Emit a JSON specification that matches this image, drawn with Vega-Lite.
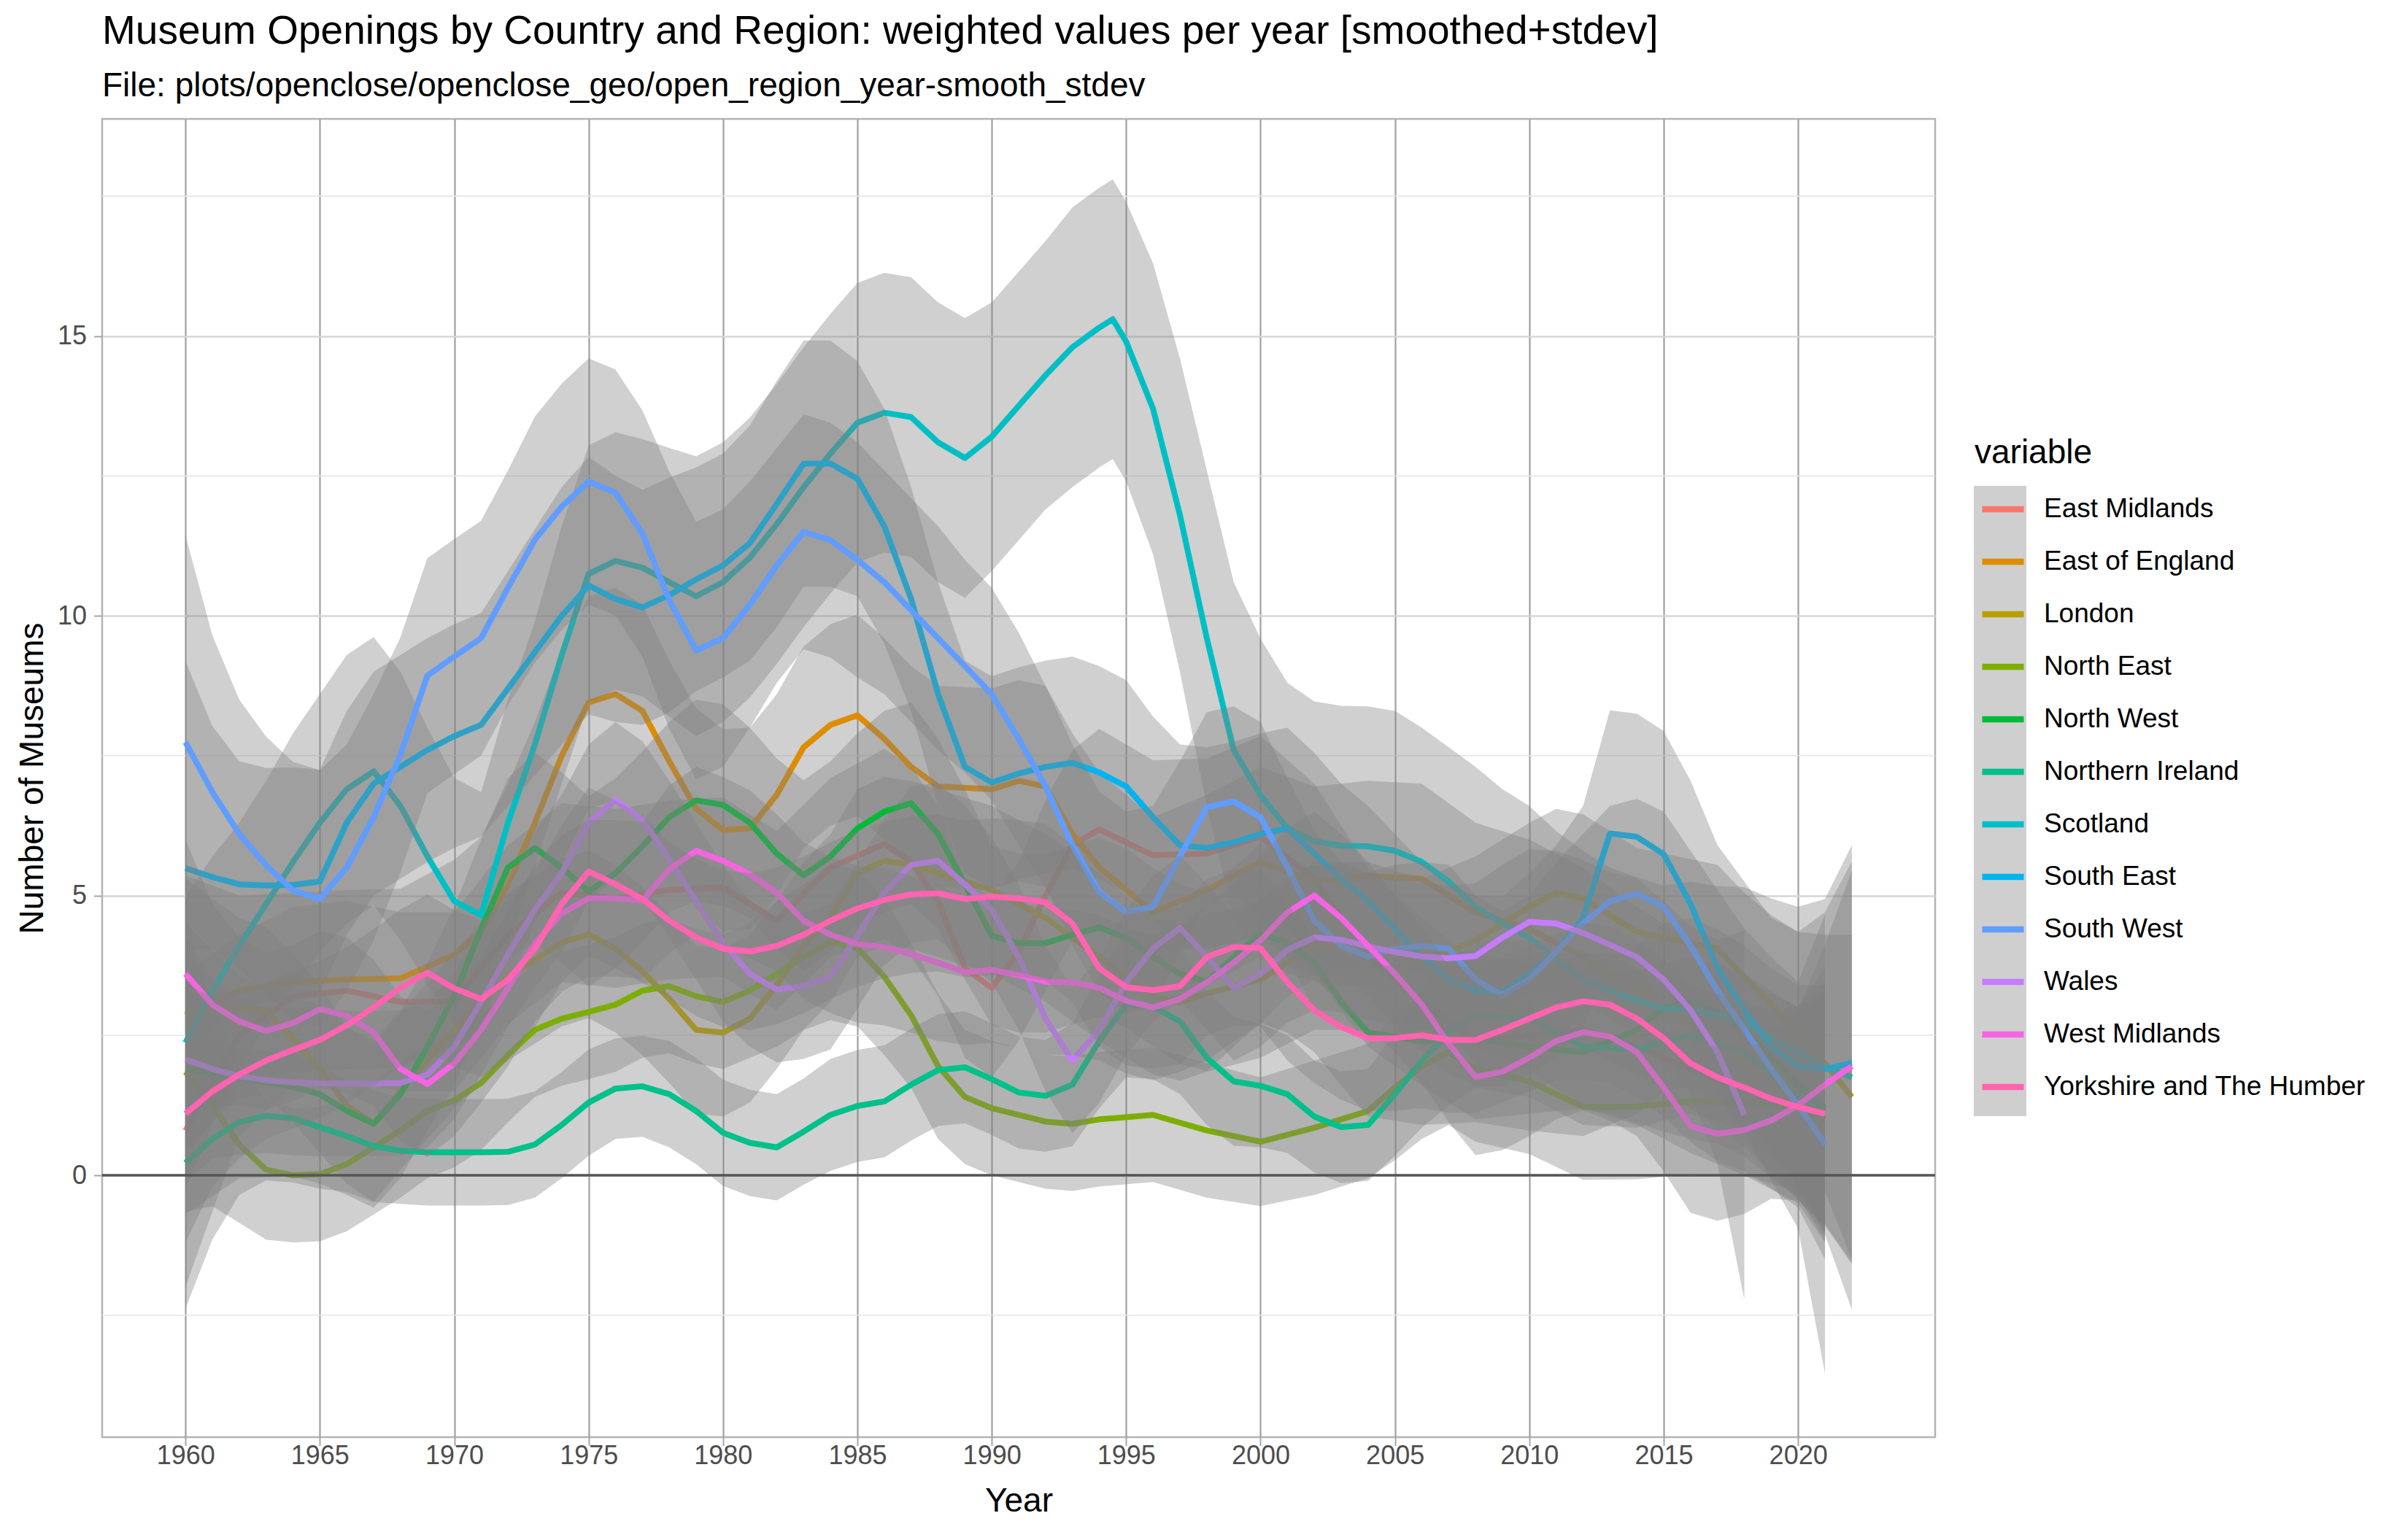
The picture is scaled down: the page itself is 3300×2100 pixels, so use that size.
{
  "$schema": "https://vega.github.io/schema/vega-lite/v6.json",
  "width": 2512,
  "height": 1807,
  "autosize": {"type": "none"},
  "padding": {"left": 140, "top": 163, "right": 648, "bottom": 130},
  "background": "white",
  "title": {
    "text": "Museum Openings by Country and Region: weighted values per year [smoothed+stdev]",
    "subtitle": "File: plots/openclose/openclose_geo/open_region_year-smooth_stdev",
    "anchor": "start",
    "frame": "group",
    "font": "Liberation Sans",
    "fontSize": 55,
    "fontWeight": "normal",
    "color": "black",
    "subtitleFont": "Liberation Sans",
    "subtitleFontSize": 46,
    "subtitleColor": "black",
    "subtitlePadding": 24,
    "offset": 21
  },
  "datasets": {
    "reg": [
      {"r": "EM", "variable": "East Midlands"},
      {"r": "EE", "variable": "East of England"},
      {"r": "LO", "variable": "London"},
      {"r": "NE", "variable": "North East"},
      {"r": "NW", "variable": "North West"},
      {"r": "NI", "variable": "Northern Ireland"},
      {"r": "SC", "variable": "Scotland"},
      {"r": "SE", "variable": "South East"},
      {"r": "SW", "variable": "South West"},
      {"r": "WA", "variable": "Wales"},
      {"r": "WM", "variable": "West Midlands"},
      {"r": "YH", "variable": "Yorkshire and The Humber"}
    ],
    "d": [
      {"r":"EM","t":1960,"v":0.8,"sd":2.8},{"r":"EM","t":1962,"v":2.5,"sd":1.8},{"r":"EM","t":1964,"v":3.2,"sd":1.6},{"r":"EM","t":1966,"v":3.3,"sd":1.6},{"r":"EM","t":1968,"v":3.1,"sd":1.6},{"r":"EM","t":1970,"v":3.1,"sd":1.6},{"r":"EM","t":1972,"v":4.3,"sd":1.6},{"r":"EM","t":1974,"v":5.05,"sd":1.6},{"r":"EM","t":1976,"v":4.95,"sd":1.6},{"r":"EM","t":1978,"v":5.1,"sd":1.6},{"r":"EM","t":1980,"v":5.15,"sd":1.6},{"r":"EM","t":1982,"v":4.55,"sd":1.6},{"r":"EM","t":1984,"v":5.5,"sd":1.6},{"r":"EM","t":1986,"v":5.92,"sd":1.7},{"r":"EM","t":1987,"v":5.6,"sd":1.7},{"r":"EM","t":1988,"v":4.9,"sd":1.7},{"r":"EM","t":1989,"v":3.7,"sd":1.6},{"r":"EM","t":1990,"v":3.35,"sd":1.6},{"r":"EM","t":1991,"v":4.0,"sd":1.6},{"r":"EM","t":1992,"v":5.0,"sd":1.7},{"r":"EM","t":1993,"v":5.9,"sd":1.7},{"r":"EM","t":1994,"v":6.18,"sd":1.8},{"r":"EM","t":1996,"v":5.72,"sd":1.7},{"r":"EM","t":1998,"v":5.75,"sd":1.7},{"r":"EM","t":2000,"v":6.05,"sd":1.8},{"r":"EM","t":2002,"v":5.3,"sd":1.7},{"r":"EM","t":2004,"v":3.9,"sd":1.6},{"r":"EM","t":2006,"v":3.1,"sd":1.5},{"r":"EM","t":2008,"v":2.4,"sd":1.4},{"r":"EM","t":2010,"v":2.5,"sd":1.4},{"r":"EM","t":2012,"v":2.6,"sd":1.4},{"r":"EM","t":2014,"v":2.3,"sd":1.4},{"r":"EM","t":2016,"v":1.9,"sd":1.5},{"r":"EM","t":2018,"v":1.5,"sd":1.5},{"r":"EM","t":2020,"v":1.2,"sd":1.7},{"r":"EM","t":2021,"v":1.0,"sd":2.2},
      {"r":"EE","t":1960,"v":2.86,"sd":2.5},{"r":"EE","t":1962,"v":3.3,"sd":1.7},{"r":"EE","t":1964,"v":3.45,"sd":1.6},{"r":"EE","t":1966,"v":3.5,"sd":1.6},{"r":"EE","t":1968,"v":3.52,"sd":1.6},{"r":"EE","t":1970,"v":3.94,"sd":1.7},{"r":"EE","t":1971,"v":4.35,"sd":1.7},{"r":"EE","t":1972,"v":5.2,"sd":1.8},{"r":"EE","t":1973,"v":6.3,"sd":1.8},{"r":"EE","t":1974,"v":7.5,"sd":1.9},{"r":"EE","t":1975,"v":8.45,"sd":1.9},{"r":"EE","t":1976,"v":8.6,"sd":1.9},{"r":"EE","t":1977,"v":8.3,"sd":1.9},{"r":"EE","t":1978,"v":7.4,"sd":1.8},{"r":"EE","t":1979,"v":6.55,"sd":1.8},{"r":"EE","t":1980,"v":6.17,"sd":1.8},{"r":"EE","t":1981,"v":6.2,"sd":1.8},{"r":"EE","t":1982,"v":6.8,"sd":1.8},{"r":"EE","t":1983,"v":7.65,"sd":1.8},{"r":"EE","t":1984,"v":8.05,"sd":1.8},{"r":"EE","t":1985,"v":8.22,"sd":1.8},{"r":"EE","t":1986,"v":7.8,"sd":1.8},{"r":"EE","t":1987,"v":7.3,"sd":1.8},{"r":"EE","t":1988,"v":6.95,"sd":1.8},{"r":"EE","t":1990,"v":6.9,"sd":1.8},{"r":"EE","t":1991,"v":7.05,"sd":1.8},{"r":"EE","t":1992,"v":6.95,"sd":1.8},{"r":"EE","t":1993,"v":6.1,"sd":1.8},{"r":"EE","t":1994,"v":5.5,"sd":1.7},{"r":"EE","t":1996,"v":4.7,"sd":1.7},{"r":"EE","t":1998,"v":5.1,"sd":1.7},{"r":"EE","t":2000,"v":5.6,"sd":1.7},{"r":"EE","t":2002,"v":5.25,"sd":1.7},{"r":"EE","t":2004,"v":5.35,"sd":1.7},{"r":"EE","t":2006,"v":5.3,"sd":1.7},{"r":"EE","t":2008,"v":4.7,"sd":1.6},{"r":"EE","t":2010,"v":4.4,"sd":1.6},{"r":"EE","t":2012,"v":3.9,"sd":1.6},{"r":"EE","t":2014,"v":3.3,"sd":1.5},{"r":"EE","t":2016,"v":2.7,"sd":1.5},{"r":"EE","t":2018,"v":2.0,"sd":1.5},{"r":"EE","t":2020,"v":1.3,"sd":1.7},{"r":"EE","t":2021,"v":1.15,"sd":2.3},
      {"r":"LO","t":1960,"v":2.9,"sd":2.4},{"r":"LO","t":1962,"v":3.0,"sd":1.6},{"r":"LO","t":1963,"v":2.93,"sd":1.5},{"r":"LO","t":1964,"v":2.45,"sd":1.5},{"r":"LO","t":1965,"v":1.9,"sd":1.5},{"r":"LO","t":1966,"v":1.25,"sd":1.4},{"r":"LO","t":1967,"v":0.92,"sd":1.4},{"r":"LO","t":1968,"v":1.5,"sd":1.4},{"r":"LO","t":1970,"v":2.6,"sd":1.4},{"r":"LO","t":1972,"v":3.55,"sd":1.5},{"r":"LO","t":1974,"v":4.16,"sd":1.5},{"r":"LO","t":1975,"v":4.31,"sd":1.5},{"r":"LO","t":1976,"v":4.05,"sd":1.5},{"r":"LO","t":1977,"v":3.65,"sd":1.5},{"r":"LO","t":1978,"v":3.15,"sd":1.5},{"r":"LO","t":1979,"v":2.6,"sd":1.5},{"r":"LO","t":1980,"v":2.55,"sd":1.5},{"r":"LO","t":1981,"v":2.8,"sd":1.5},{"r":"LO","t":1982,"v":3.4,"sd":1.5},{"r":"LO","t":1983,"v":4.1,"sd":1.5},{"r":"LO","t":1984,"v":4.6,"sd":1.5},{"r":"LO","t":1985,"v":5.4,"sd":1.5},{"r":"LO","t":1986,"v":5.62,"sd":1.5},{"r":"LO","t":1987,"v":5.55,"sd":1.5},{"r":"LO","t":1988,"v":5.4,"sd":1.5},{"r":"LO","t":1990,"v":5.1,"sd":1.5},{"r":"LO","t":1992,"v":4.6,"sd":1.5},{"r":"LO","t":1994,"v":3.9,"sd":1.5},{"r":"LO","t":1996,"v":3.2,"sd":1.4},{"r":"LO","t":1997,"v":3.09,"sd":1.4},{"r":"LO","t":1998,"v":3.25,"sd":1.4},{"r":"LO","t":2000,"v":3.5,"sd":1.4},{"r":"LO","t":2002,"v":4.1,"sd":1.5},{"r":"LO","t":2004,"v":4.1,"sd":1.5},{"r":"LO","t":2006,"v":3.8,"sd":1.5},{"r":"LO","t":2008,"v":4.2,"sd":1.5},{"r":"LO","t":2010,"v":4.8,"sd":1.5},{"r":"LO","t":2011,"v":5.05,"sd":1.5},{"r":"LO","t":2012,"v":4.95,"sd":1.5},{"r":"LO","t":2014,"v":4.35,"sd":1.5},{"r":"LO","t":2016,"v":4.15,"sd":1.5},{"r":"LO","t":2017,"v":4.05,"sd":1.5},{"r":"LO","t":2018,"v":3.55,"sd":1.5},{"r":"LO","t":2019,"v":3.05,"sd":1.6},{"r":"LO","t":2020,"v":2.55,"sd":1.8},{"r":"LO","t":2021,"v":2.0,"sd":2.3},{"r":"LO","t":2022,"v":1.4,"sd":2.9},
      {"r":"NE","t":1960,"v":1.85,"sd":2.5},{"r":"NE","t":1961,"v":1.25,"sd":1.8},{"r":"NE","t":1962,"v":0.55,"sd":1.4},{"r":"NE","t":1963,"v":0.1,"sd":1.25},{"r":"NE","t":1964,"v":0.0,"sd":1.2},{"r":"NE","t":1965,"v":0.02,"sd":1.2},{"r":"NE","t":1966,"v":0.2,"sd":1.2},{"r":"NE","t":1967,"v":0.5,"sd":1.2},{"r":"NE","t":1968,"v":0.8,"sd":1.2},{"r":"NE","t":1969,"v":1.15,"sd":1.2},{"r":"NE","t":1970,"v":1.34,"sd":1.2},{"r":"NE","t":1971,"v":1.65,"sd":1.2},{"r":"NE","t":1972,"v":2.15,"sd":1.2},{"r":"NE","t":1973,"v":2.6,"sd":1.2},{"r":"NE","t":1974,"v":2.8,"sd":1.2},{"r":"NE","t":1975,"v":2.92,"sd":1.2},{"r":"NE","t":1976,"v":3.05,"sd":1.2},{"r":"NE","t":1977,"v":3.3,"sd":1.2},{"r":"NE","t":1978,"v":3.38,"sd":1.2},{"r":"NE","t":1979,"v":3.2,"sd":1.2},{"r":"NE","t":1980,"v":3.1,"sd":1.2},{"r":"NE","t":1981,"v":3.3,"sd":1.2},{"r":"NE","t":1982,"v":3.6,"sd":1.3},{"r":"NE","t":1983,"v":3.9,"sd":1.3},{"r":"NE","t":1984,"v":4.17,"sd":1.4},{"r":"NE","t":1985,"v":4.06,"sd":1.4},{"r":"NE","t":1986,"v":3.55,"sd":1.4},{"r":"NE","t":1987,"v":2.86,"sd":1.3},{"r":"NE","t":1988,"v":1.95,"sd":1.3},{"r":"NE","t":1989,"v":1.4,"sd":1.2},{"r":"NE","t":1990,"v":1.2,"sd":1.2},{"r":"NE","t":1992,"v":0.96,"sd":1.2},{"r":"NE","t":1993,"v":0.92,"sd":1.2},{"r":"NE","t":1994,"v":1.0,"sd":1.2},{"r":"NE","t":1996,"v":1.08,"sd":1.2},{"r":"NE","t":1998,"v":0.8,"sd":1.2},{"r":"NE","t":2000,"v":0.6,"sd":1.15},{"r":"NE","t":2002,"v":0.85,"sd":1.2},{"r":"NE","t":2004,"v":1.15,"sd":1.2},{"r":"NE","t":2005,"v":1.57,"sd":1.3},{"r":"NE","t":2006,"v":1.95,"sd":1.3},{"r":"NE","t":2007,"v":2.2,"sd":1.3},{"r":"NE","t":2008,"v":1.9,"sd":1.3},{"r":"NE","t":2010,"v":1.68,"sd":1.3},{"r":"NE","t":2011,"v":1.45,"sd":1.3},{"r":"NE","t":2012,"v":1.22,"sd":1.3},{"r":"NE","t":2014,"v":1.23,"sd":1.3},{"r":"NE","t":2016,"v":1.32,"sd":1.3},{"r":"NE","t":2018,"v":1.3,"sd":1.3},{"r":"NE","t":2020,"v":1.2,"sd":1.5},{"r":"NE","t":2021,"v":1.0,"sd":2.0},
      {"r":"NW","t":1960,"v":1.9,"sd":2.6},{"r":"NW","t":1962,"v":1.75,"sd":1.8},{"r":"NW","t":1964,"v":1.58,"sd":1.6},{"r":"NW","t":1965,"v":1.45,"sd":1.6},{"r":"NW","t":1966,"v":1.15,"sd":1.5},{"r":"NW","t":1967,"v":0.92,"sd":1.5},{"r":"NW","t":1968,"v":1.45,"sd":1.5},{"r":"NW","t":1969,"v":2.3,"sd":1.5},{"r":"NW","t":1970,"v":3.2,"sd":1.6},{"r":"NW","t":1971,"v":4.4,"sd":1.6},{"r":"NW","t":1972,"v":5.5,"sd":1.6},{"r":"NW","t":1973,"v":5.85,"sd":1.7},{"r":"NW","t":1974,"v":5.5,"sd":1.7},{"r":"NW","t":1975,"v":5.07,"sd":1.7},{"r":"NW","t":1976,"v":5.4,"sd":1.7},{"r":"NW","t":1977,"v":5.88,"sd":1.7},{"r":"NW","t":1978,"v":6.4,"sd":1.7},{"r":"NW","t":1979,"v":6.7,"sd":1.8},{"r":"NW","t":1980,"v":6.62,"sd":1.8},{"r":"NW","t":1981,"v":6.3,"sd":1.7},{"r":"NW","t":1982,"v":5.75,"sd":1.7},{"r":"NW","t":1983,"v":5.36,"sd":1.7},{"r":"NW","t":1984,"v":5.7,"sd":1.7},{"r":"NW","t":1985,"v":6.2,"sd":1.7},{"r":"NW","t":1986,"v":6.5,"sd":1.8},{"r":"NW","t":1987,"v":6.65,"sd":1.8},{"r":"NW","t":1988,"v":6.1,"sd":1.7},{"r":"NW","t":1989,"v":5.2,"sd":1.7},{"r":"NW","t":1990,"v":4.28,"sd":1.6},{"r":"NW","t":1991,"v":4.15,"sd":1.6},{"r":"NW","t":1992,"v":4.15,"sd":1.6},{"r":"NW","t":1993,"v":4.3,"sd":1.6},{"r":"NW","t":1994,"v":4.43,"sd":1.6},{"r":"NW","t":1995,"v":4.24,"sd":1.6},{"r":"NW","t":1996,"v":3.9,"sd":1.6},{"r":"NW","t":1997,"v":3.6,"sd":1.6},{"r":"NW","t":1998,"v":3.46,"sd":1.6},{"r":"NW","t":1999,"v":3.9,"sd":1.6},{"r":"NW","t":2000,"v":4.33,"sd":1.6},{"r":"NW","t":2001,"v":4.15,"sd":1.6},{"r":"NW","t":2002,"v":3.8,"sd":1.6},{"r":"NW","t":2003,"v":3.1,"sd":1.5},{"r":"NW","t":2004,"v":2.55,"sd":1.5},{"r":"NW","t":2006,"v":2.4,"sd":1.5},{"r":"NW","t":2008,"v":2.45,"sd":1.5},{"r":"NW","t":2010,"v":2.3,"sd":1.5},{"r":"NW","t":2012,"v":2.2,"sd":1.5},{"r":"NW","t":2014,"v":2.6,"sd":1.5},{"r":"NW","t":2015,"v":3.0,"sd":1.5},{"r":"NW","t":2016,"v":3.1,"sd":1.5},{"r":"NW","t":2017,"v":2.9,"sd":1.5},{"r":"NW","t":2018,"v":2.6,"sd":1.5},{"r":"NW","t":2019,"v":2.1,"sd":1.6},{"r":"NW","t":2020,"v":1.6,"sd":1.8},{"r":"NW","t":2021,"v":1.2,"sd":2.2},
      {"r":"NI","t":1960,"v":0.22,"sd":2.6},{"r":"NI","t":1961,"v":0.65,"sd":1.8},{"r":"NI","t":1962,"v":0.95,"sd":1.3},{"r":"NI","t":1963,"v":1.06,"sd":1.15},{"r":"NI","t":1964,"v":1.02,"sd":1.15},{"r":"NI","t":1965,"v":0.86,"sd":1.1},{"r":"NI","t":1966,"v":0.7,"sd":1.0},{"r":"NI","t":1967,"v":0.52,"sd":1.0},{"r":"NI","t":1968,"v":0.44,"sd":0.95},{"r":"NI","t":1969,"v":0.41,"sd":0.95},{"r":"NI","t":1970,"v":0.41,"sd":0.95},{"r":"NI","t":1971,"v":0.41,"sd":0.95},{"r":"NI","t":1972,"v":0.42,"sd":0.95},{"r":"NI","t":1973,"v":0.55,"sd":0.95},{"r":"NI","t":1974,"v":0.9,"sd":0.95},{"r":"NI","t":1975,"v":1.3,"sd":0.95},{"r":"NI","t":1976,"v":1.55,"sd":0.9},{"r":"NI","t":1977,"v":1.59,"sd":0.9},{"r":"NI","t":1978,"v":1.45,"sd":0.95},{"r":"NI","t":1979,"v":1.15,"sd":0.95},{"r":"NI","t":1980,"v":0.76,"sd":0.95},{"r":"NI","t":1981,"v":0.58,"sd":0.95},{"r":"NI","t":1982,"v":0.5,"sd":0.95},{"r":"NI","t":1983,"v":0.78,"sd":0.95},{"r":"NI","t":1984,"v":1.08,"sd":1.0},{"r":"NI","t":1985,"v":1.24,"sd":1.0},{"r":"NI","t":1986,"v":1.32,"sd":1.0},{"r":"NI","t":1987,"v":1.62,"sd":1.0},{"r":"NI","t":1988,"v":1.88,"sd":1.0},{"r":"NI","t":1989,"v":1.93,"sd":1.0},{"r":"NI","t":1990,"v":1.72,"sd":1.0},{"r":"NI","t":1991,"v":1.48,"sd":1.0},{"r":"NI","t":1992,"v":1.42,"sd":1.0},{"r":"NI","t":1993,"v":1.62,"sd":1.1},{"r":"NI","t":1994,"v":2.4,"sd":1.2},{"r":"NI","t":1995,"v":3.05,"sd":1.3},{"r":"NI","t":1996,"v":3.02,"sd":1.3},{"r":"NI","t":1997,"v":2.75,"sd":1.3},{"r":"NI","t":1998,"v":2.1,"sd":1.2},{"r":"NI","t":1999,"v":1.68,"sd":1.15},{"r":"NI","t":2000,"v":1.6,"sd":1.1},{"r":"NI","t":2001,"v":1.45,"sd":1.05},{"r":"NI","t":2002,"v":1.05,"sd":1.0},{"r":"NI","t":2003,"v":0.86,"sd":1.0},{"r":"NI","t":2004,"v":0.9,"sd":1.0},{"r":"NI","t":2005,"v":1.45,"sd":1.1},{"r":"NI","t":2006,"v":2.05,"sd":1.2},{"r":"NI","t":2007,"v":2.55,"sd":1.3},{"r":"NI","t":2008,"v":2.87,"sd":1.3},{"r":"NI","t":2010,"v":2.8,"sd":1.4},{"r":"NI","t":2012,"v":2.3,"sd":1.4},{"r":"NI","t":2014,"v":2.25,"sd":1.4},{"r":"NI","t":2016,"v":2.5,"sd":1.4},{"r":"NI","t":2018,"v":2.2,"sd":1.4},{"r":"NI","t":2020,"v":1.4,"sd":1.6},{"r":"NI","t":2021,"v":1.15,"sd":2.1},
      {"r":"SC","t":1960,"v":2.37,"sd":2.6},{"r":"SC","t":1961,"v":3.3,"sd":2.4},{"r":"SC","t":1962,"v":4.1,"sd":2.2},{"r":"SC","t":1963,"v":4.85,"sd":2.2},{"r":"SC","t":1964,"v":5.6,"sd":2.3},{"r":"SC","t":1965,"v":6.3,"sd":2.3},{"r":"SC","t":1966,"v":6.9,"sd":2.4},{"r":"SC","t":1967,"v":7.22,"sd":2.4},{"r":"SC","t":1968,"v":6.6,"sd":2.4},{"r":"SC","t":1969,"v":5.7,"sd":2.3},{"r":"SC","t":1970,"v":4.9,"sd":2.2},{"r":"SC","t":1971,"v":4.65,"sd":2.2},{"r":"SC","t":1972,"v":6.3,"sd":2.2},{"r":"SC","t":1973,"v":7.7,"sd":2.2},{"r":"SC","t":1974,"v":9.3,"sd":2.3},{"r":"SC","t":1975,"v":10.75,"sd":2.3},{"r":"SC","t":1976,"v":10.98,"sd":2.3},{"r":"SC","t":1977,"v":10.86,"sd":2.3},{"r":"SC","t":1978,"v":10.6,"sd":2.4},{"r":"SC","t":1979,"v":10.35,"sd":2.5},{"r":"SC","t":1980,"v":10.6,"sd":2.5},{"r":"SC","t":1981,"v":11.04,"sd":2.5},{"r":"SC","t":1982,"v":11.64,"sd":2.5},{"r":"SC","t":1983,"v":12.3,"sd":2.5},{"r":"SC","t":1984,"v":12.9,"sd":2.5},{"r":"SC","t":1985,"v":13.45,"sd":2.5},{"r":"SC","t":1986,"v":13.63,"sd":2.5},{"r":"SC","t":1987,"v":13.55,"sd":2.5},{"r":"SC","t":1988,"v":13.1,"sd":2.5},{"r":"SC","t":1989,"v":12.82,"sd":2.5},{"r":"SC","t":1990,"v":13.2,"sd":2.4},{"r":"SC","t":1991,"v":13.75,"sd":2.4},{"r":"SC","t":1992,"v":14.3,"sd":2.4},{"r":"SC","t":1993,"v":14.8,"sd":2.5},{"r":"SC","t":1994,"v":15.15,"sd":2.5},{"r":"SC","t":1994.5,"v":15.3,"sd":2.5},{"r":"SC","t":1995,"v":14.9,"sd":2.5},{"r":"SC","t":1996,"v":13.7,"sd":2.6},{"r":"SC","t":1997,"v":11.8,"sd":2.8},{"r":"SC","t":1998,"v":9.6,"sd":3.0},{"r":"SC","t":1999,"v":7.6,"sd":3.0},{"r":"SC","t":2000,"v":6.79,"sd":2.8},{"r":"SC","t":2001,"v":6.2,"sd":2.6},{"r":"SC","t":2002,"v":5.97,"sd":2.5},{"r":"SC","t":2003,"v":5.89,"sd":2.5},{"r":"SC","t":2004,"v":5.88,"sd":2.5},{"r":"SC","t":2005,"v":5.8,"sd":2.5},{"r":"SC","t":2006,"v":5.6,"sd":2.4},{"r":"SC","t":2007,"v":5.25,"sd":2.4},{"r":"SC","t":2008,"v":4.8,"sd":2.5},{"r":"SC","t":2009,"v":4.5,"sd":2.4},{"r":"SC","t":2010,"v":4.25,"sd":2.35},{"r":"SC","t":2011,"v":3.85,"sd":2.3},{"r":"SC","t":2012,"v":3.5,"sd":2.3},{"r":"SC","t":2013,"v":3.3,"sd":2.2},{"r":"SC","t":2014,"v":3.13,"sd":2.2},{"r":"SC","t":2015,"v":2.98,"sd":2.2},{"r":"SC","t":2016,"v":2.95,"sd":2.3},{"r":"SC","t":2017,"v":2.87,"sd":2.3},{"r":"SC","t":2018,"v":2.75,"sd":2.4},{"r":"SC","t":2019,"v":2.45,"sd":2.5},{"r":"SC","t":2020,"v":2.2,"sd":2.6},{"r":"SC","t":2021,"v":1.94,"sd":3.0},{"r":"SC","t":2022,"v":1.75,"sd":4.15},
      {"r":"SE","t":1960,"v":5.49,"sd":3.7},{"r":"SE","t":1961,"v":5.33,"sd":2.7},{"r":"SE","t":1962,"v":5.2,"sd":2.2},{"r":"SE","t":1963,"v":5.18,"sd":2.1},{"r":"SE","t":1964,"v":5.19,"sd":2.1},{"r":"SE","t":1965,"v":5.25,"sd":2.0},{"r":"SE","t":1966,"v":6.3,"sd":2.0},{"r":"SE","t":1967,"v":7.0,"sd":2.0},{"r":"SE","t":1968,"v":7.3,"sd":2.0},{"r":"SE","t":1969,"v":7.6,"sd":2.0},{"r":"SE","t":1970,"v":7.85,"sd":2.0},{"r":"SE","t":1971,"v":8.05,"sd":2.0},{"r":"SE","t":1972,"v":8.7,"sd":2.1},{"r":"SE","t":1973,"v":9.35,"sd":2.2},{"r":"SE","t":1974,"v":10.0,"sd":2.3},{"r":"SE","t":1975,"v":10.54,"sd":2.3},{"r":"SE","t":1976,"v":10.3,"sd":2.2},{"r":"SE","t":1977,"v":10.15,"sd":2.1},{"r":"SE","t":1978,"v":10.37,"sd":2.1},{"r":"SE","t":1979,"v":10.65,"sd":2.0},{"r":"SE","t":1980,"v":10.9,"sd":2.0},{"r":"SE","t":1981,"v":11.3,"sd":2.1},{"r":"SE","t":1982,"v":12.0,"sd":2.2},{"r":"SE","t":1983,"v":12.72,"sd":2.2},{"r":"SE","t":1984,"v":12.72,"sd":2.2},{"r":"SE","t":1985,"v":12.45,"sd":2.1},{"r":"SE","t":1986,"v":11.6,"sd":2.1},{"r":"SE","t":1987,"v":10.3,"sd":2.0},{"r":"SE","t":1988,"v":8.6,"sd":2.0},{"r":"SE","t":1989,"v":7.3,"sd":1.9},{"r":"SE","t":1990,"v":7.02,"sd":1.9},{"r":"SE","t":1991,"v":7.18,"sd":1.9},{"r":"SE","t":1992,"v":7.3,"sd":1.9},{"r":"SE","t":1993,"v":7.37,"sd":1.9},{"r":"SE","t":1994,"v":7.2,"sd":1.9},{"r":"SE","t":1995,"v":6.95,"sd":1.9},{"r":"SE","t":1996,"v":6.4,"sd":1.8},{"r":"SE","t":1997,"v":5.9,"sd":1.8},{"r":"SE","t":1998,"v":5.85,"sd":1.8},{"r":"SE","t":1999,"v":5.95,"sd":1.8},{"r":"SE","t":2000,"v":6.1,"sd":1.8},{"r":"SE","t":2001,"v":6.2,"sd":1.8},{"r":"SE","t":2002,"v":5.75,"sd":1.8},{"r":"SE","t":2003,"v":5.3,"sd":1.7},{"r":"SE","t":2004,"v":4.9,"sd":1.7},{"r":"SE","t":2005,"v":4.4,"sd":1.7},{"r":"SE","t":2006,"v":3.9,"sd":1.7},{"r":"SE","t":2007,"v":3.5,"sd":1.7},{"r":"SE","t":2008,"v":3.3,"sd":1.7},{"r":"SE","t":2009,"v":3.28,"sd":1.7},{"r":"SE","t":2010,"v":3.6,"sd":1.8},{"r":"SE","t":2011,"v":4.0,"sd":1.9},{"r":"SE","t":2012,"v":4.6,"sd":2.0},{"r":"SE","t":2013,"v":6.11,"sd":2.2},{"r":"SE","t":2014,"v":6.05,"sd":2.2},{"r":"SE","t":2015,"v":5.74,"sd":2.2},{"r":"SE","t":2016,"v":4.85,"sd":2.2},{"r":"SE","t":2017,"v":3.7,"sd":2.2},{"r":"SE","t":2018,"v":2.95,"sd":2.3},{"r":"SE","t":2019,"v":2.3,"sd":2.3},{"r":"SE","t":2020,"v":1.95,"sd":2.4},{"r":"SE","t":2021,"v":1.9,"sd":2.8},{"r":"SE","t":2022,"v":2.01,"sd":3.6},
      {"r":"SW","t":1960,"v":7.74,"sd":3.7},{"r":"SW","t":1961,"v":6.85,"sd":2.8},{"r":"SW","t":1962,"v":6.1,"sd":2.4},{"r":"SW","t":1963,"v":5.54,"sd":2.3},{"r":"SW","t":1964,"v":5.09,"sd":2.3},{"r":"SW","t":1965,"v":4.94,"sd":2.3},{"r":"SW","t":1966,"v":5.5,"sd":2.2},{"r":"SW","t":1967,"v":6.4,"sd":2.2},{"r":"SW","t":1968,"v":7.52,"sd":2.1},{"r":"SW","t":1969,"v":8.93,"sd":2.1},{"r":"SW","t":1970,"v":9.27,"sd":2.1},{"r":"SW","t":1971,"v":9.6,"sd":2.1},{"r":"SW","t":1972,"v":10.5,"sd":2.1},{"r":"SW","t":1973,"v":11.36,"sd":2.2},{"r":"SW","t":1974,"v":11.95,"sd":2.2},{"r":"SW","t":1975,"v":12.4,"sd":2.2},{"r":"SW","t":1976,"v":12.2,"sd":2.2},{"r":"SW","t":1977,"v":11.47,"sd":2.2},{"r":"SW","t":1978,"v":10.28,"sd":2.3},{"r":"SW","t":1979,"v":9.38,"sd":2.3},{"r":"SW","t":1980,"v":9.6,"sd":2.3},{"r":"SW","t":1981,"v":10.2,"sd":2.2},{"r":"SW","t":1982,"v":10.9,"sd":2.1},{"r":"SW","t":1983,"v":11.5,"sd":2.1},{"r":"SW","t":1984,"v":11.35,"sd":2.1},{"r":"SW","t":1985,"v":11.0,"sd":2.1},{"r":"SW","t":1986,"v":10.6,"sd":2.0},{"r":"SW","t":1987,"v":10.1,"sd":2.0},{"r":"SW","t":1988,"v":9.6,"sd":2.0},{"r":"SW","t":1989,"v":9.1,"sd":1.9},{"r":"SW","t":1990,"v":8.6,"sd":1.9},{"r":"SW","t":1991,"v":7.8,"sd":1.9},{"r":"SW","t":1992,"v":6.95,"sd":1.8},{"r":"SW","t":1993,"v":5.9,"sd":1.8},{"r":"SW","t":1994,"v":5.06,"sd":1.8},{"r":"SW","t":1995,"v":4.7,"sd":1.8},{"r":"SW","t":1996,"v":4.8,"sd":1.8},{"r":"SW","t":1997,"v":5.7,"sd":1.7},{"r":"SW","t":1998,"v":6.58,"sd":1.7},{"r":"SW","t":1999,"v":6.68,"sd":1.7},{"r":"SW","t":2000,"v":6.4,"sd":1.7},{"r":"SW","t":2001,"v":5.5,"sd":1.6},{"r":"SW","t":2002,"v":4.55,"sd":1.6},{"r":"SW","t":2003,"v":4.1,"sd":1.5},{"r":"SW","t":2004,"v":3.91,"sd":1.5},{"r":"SW","t":2005,"v":4.05,"sd":1.5},{"r":"SW","t":2006,"v":4.1,"sd":1.5},{"r":"SW","t":2007,"v":4.05,"sd":1.5},{"r":"SW","t":2008,"v":3.5,"sd":1.5},{"r":"SW","t":2009,"v":3.22,"sd":1.5},{"r":"SW","t":2010,"v":3.5,"sd":1.5},{"r":"SW","t":2011,"v":4.0,"sd":1.6},{"r":"SW","t":2012,"v":4.5,"sd":1.6},{"r":"SW","t":2013,"v":4.9,"sd":1.7},{"r":"SW","t":2014,"v":5.03,"sd":1.7},{"r":"SW","t":2015,"v":4.8,"sd":1.7},{"r":"SW","t":2016,"v":4.1,"sd":1.7},{"r":"SW","t":2017,"v":3.3,"sd":1.8},{"r":"SW","t":2018,"v":2.61,"sd":1.8},{"r":"SW","t":2019,"v":1.9,"sd":2.0},{"r":"SW","t":2020,"v":1.25,"sd":2.2},{"r":"SW","t":2021,"v":0.56,"sd":4.1},
      {"r":"WA","t":1960,"v":2.07,"sd":2.2},{"r":"WA","t":1961,"v":1.9,"sd":1.6},{"r":"WA","t":1962,"v":1.77,"sd":1.4},{"r":"WA","t":1963,"v":1.7,"sd":1.3},{"r":"WA","t":1964,"v":1.66,"sd":1.3},{"r":"WA","t":1965,"v":1.64,"sd":1.3},{"r":"WA","t":1966,"v":1.64,"sd":1.3},{"r":"WA","t":1967,"v":1.64,"sd":1.3},{"r":"WA","t":1968,"v":1.65,"sd":1.3},{"r":"WA","t":1969,"v":1.8,"sd":1.3},{"r":"WA","t":1970,"v":2.3,"sd":1.3},{"r":"WA","t":1971,"v":3.1,"sd":1.3},{"r":"WA","t":1972,"v":3.95,"sd":1.3},{"r":"WA","t":1973,"v":4.75,"sd":1.4},{"r":"WA","t":1974,"v":5.4,"sd":1.4},{"r":"WA","t":1975,"v":6.3,"sd":1.4},{"r":"WA","t":1976,"v":6.7,"sd":1.4},{"r":"WA","t":1977,"v":6.36,"sd":1.4},{"r":"WA","t":1978,"v":5.65,"sd":1.4},{"r":"WA","t":1979,"v":4.9,"sd":1.4},{"r":"WA","t":1980,"v":4.15,"sd":1.4},{"r":"WA","t":1981,"v":3.6,"sd":1.3},{"r":"WA","t":1982,"v":3.32,"sd":1.3},{"r":"WA","t":1983,"v":3.38,"sd":1.3},{"r":"WA","t":1984,"v":3.55,"sd":1.3},{"r":"WA","t":1985,"v":4.28,"sd":1.3},{"r":"WA","t":1986,"v":5.05,"sd":1.3},{"r":"WA","t":1987,"v":5.55,"sd":1.4},{"r":"WA","t":1988,"v":5.62,"sd":1.4},{"r":"WA","t":1989,"v":5.2,"sd":1.4},{"r":"WA","t":1990,"v":4.75,"sd":1.3},{"r":"WA","t":1991,"v":3.9,"sd":1.3},{"r":"WA","t":1992,"v":2.8,"sd":1.3},{"r":"WA","t":1993,"v":2.05,"sd":1.3},{"r":"WA","t":1994,"v":2.6,"sd":1.3},{"r":"WA","t":1995,"v":3.45,"sd":1.3},{"r":"WA","t":1996,"v":4.05,"sd":1.3},{"r":"WA","t":1997,"v":4.42,"sd":1.3},{"r":"WA","t":1998,"v":3.91,"sd":1.3},{"r":"WA","t":1999,"v":3.35,"sd":1.3},{"r":"WA","t":2000,"v":3.6,"sd":1.3},{"r":"WA","t":2001,"v":4.03,"sd":1.3},{"r":"WA","t":2002,"v":4.25,"sd":1.3},{"r":"WA","t":2003,"v":4.21,"sd":1.3},{"r":"WA","t":2004,"v":4.09,"sd":1.3},{"r":"WA","t":2005,"v":3.99,"sd":1.3},{"r":"WA","t":2006,"v":3.91,"sd":1.3},{"r":"WA","t":2007,"v":3.88,"sd":1.3},{"r":"WA","t":2008,"v":3.92,"sd":1.3},{"r":"WA","t":2009,"v":4.25,"sd":1.3},{"r":"WA","t":2010,"v":4.53,"sd":1.3},{"r":"WA","t":2011,"v":4.5,"sd":1.3},{"r":"WA","t":2012,"v":4.33,"sd":1.3},{"r":"WA","t":2013,"v":4.12,"sd":1.3},{"r":"WA","t":2014,"v":3.9,"sd":1.4},{"r":"WA","t":2015,"v":3.5,"sd":1.4},{"r":"WA","t":2016,"v":2.95,"sd":1.5},{"r":"WA","t":2017,"v":2.2,"sd":2.0},{"r":"WA","t":2018,"v":1.08,"sd":3.3},
      {"r":"WM","t":1960,"v":3.6,"sd":2.4},{"r":"WM","t":1961,"v":3.05,"sd":1.8},{"r":"WM","t":1962,"v":2.75,"sd":1.5},{"r":"WM","t":1963,"v":2.58,"sd":1.4},{"r":"WM","t":1964,"v":2.72,"sd":1.4},{"r":"WM","t":1965,"v":2.97,"sd":1.4},{"r":"WM","t":1966,"v":2.85,"sd":1.4},{"r":"WM","t":1967,"v":2.55,"sd":1.3},{"r":"WM","t":1968,"v":1.9,"sd":1.3},{"r":"WM","t":1969,"v":1.63,"sd":1.3},{"r":"WM","t":1970,"v":2.0,"sd":1.3},{"r":"WM","t":1971,"v":2.6,"sd":1.3},{"r":"WM","t":1972,"v":3.35,"sd":1.4},{"r":"WM","t":1973,"v":4.15,"sd":1.4},{"r":"WM","t":1974,"v":4.68,"sd":1.4},{"r":"WM","t":1975,"v":4.95,"sd":1.4},{"r":"WM","t":1976,"v":4.95,"sd":1.4},{"r":"WM","t":1977,"v":4.91,"sd":1.4},{"r":"WM","t":1978,"v":5.47,"sd":1.5},{"r":"WM","t":1979,"v":5.8,"sd":1.5},{"r":"WM","t":1980,"v":5.62,"sd":1.5},{"r":"WM","t":1981,"v":5.38,"sd":1.5},{"r":"WM","t":1982,"v":5.05,"sd":1.4},{"r":"WM","t":1983,"v":4.55,"sd":1.4},{"r":"WM","t":1984,"v":4.3,"sd":1.4},{"r":"WM","t":1985,"v":4.13,"sd":1.4},{"r":"WM","t":1986,"v":4.08,"sd":1.4},{"r":"WM","t":1987,"v":3.95,"sd":1.4},{"r":"WM","t":1988,"v":3.8,"sd":1.4},{"r":"WM","t":1989,"v":3.63,"sd":1.3},{"r":"WM","t":1990,"v":3.67,"sd":1.3},{"r":"WM","t":1991,"v":3.58,"sd":1.3},{"r":"WM","t":1992,"v":3.46,"sd":1.3},{"r":"WM","t":1993,"v":3.45,"sd":1.3},{"r":"WM","t":1994,"v":3.35,"sd":1.3},{"r":"WM","t":1995,"v":3.12,"sd":1.3},{"r":"WM","t":1996,"v":3.0,"sd":1.3},{"r":"WM","t":1997,"v":3.15,"sd":1.3},{"r":"WM","t":1998,"v":3.45,"sd":1.4},{"r":"WM","t":1999,"v":3.8,"sd":1.4},{"r":"WM","t":2000,"v":4.2,"sd":1.5},{"r":"WM","t":2001,"v":4.7,"sd":1.5},{"r":"WM","t":2002,"v":5.0,"sd":1.5},{"r":"WM","t":2003,"v":4.6,"sd":1.5},{"r":"WM","t":2004,"v":4.1,"sd":1.5},{"r":"WM","t":2005,"v":3.6,"sd":1.4},{"r":"WM","t":2006,"v":3.05,"sd":1.4},{"r":"WM","t":2007,"v":2.35,"sd":1.4},{"r":"WM","t":2008,"v":1.76,"sd":1.4},{"r":"WM","t":2009,"v":1.85,"sd":1.4},{"r":"WM","t":2010,"v":2.1,"sd":1.4},{"r":"WM","t":2011,"v":2.4,"sd":1.4},{"r":"WM","t":2012,"v":2.56,"sd":1.4},{"r":"WM","t":2013,"v":2.48,"sd":1.5},{"r":"WM","t":2014,"v":2.2,"sd":1.5},{"r":"WM","t":2015,"v":1.57,"sd":1.5},{"r":"WM","t":2016,"v":0.88,"sd":1.55},{"r":"WM","t":2017,"v":0.74,"sd":1.55},{"r":"WM","t":2018,"v":0.81,"sd":1.5},{"r":"WM","t":2019,"v":0.98,"sd":1.4},{"r":"WM","t":2020,"v":1.25,"sd":1.7},{"r":"WM","t":2021,"v":1.62,"sd":2.5},{"r":"WM","t":2022,"v":1.95,"sd":3.5},
      {"r":"YH","t":1960,"v":1.1,"sd":2.3},{"r":"YH","t":1961,"v":1.5,"sd":1.7},{"r":"YH","t":1962,"v":1.8,"sd":1.5},{"r":"YH","t":1963,"v":2.05,"sd":1.4},{"r":"YH","t":1964,"v":2.24,"sd":1.4},{"r":"YH","t":1965,"v":2.42,"sd":1.4},{"r":"YH","t":1966,"v":2.68,"sd":1.4},{"r":"YH","t":1967,"v":3.0,"sd":1.4},{"r":"YH","t":1968,"v":3.35,"sd":1.4},{"r":"YH","t":1969,"v":3.62,"sd":1.4},{"r":"YH","t":1970,"v":3.34,"sd":1.4},{"r":"YH","t":1971,"v":3.15,"sd":1.4},{"r":"YH","t":1972,"v":3.5,"sd":1.4},{"r":"YH","t":1973,"v":4.05,"sd":1.4},{"r":"YH","t":1974,"v":4.85,"sd":1.4},{"r":"YH","t":1975,"v":5.43,"sd":1.5},{"r":"YH","t":1976,"v":5.2,"sd":1.5},{"r":"YH","t":1977,"v":4.94,"sd":1.5},{"r":"YH","t":1978,"v":4.55,"sd":1.4},{"r":"YH","t":1979,"v":4.25,"sd":1.4},{"r":"YH","t":1980,"v":4.05,"sd":1.4},{"r":"YH","t":1981,"v":4.0,"sd":1.4},{"r":"YH","t":1982,"v":4.1,"sd":1.4},{"r":"YH","t":1983,"v":4.3,"sd":1.4},{"r":"YH","t":1984,"v":4.55,"sd":1.4},{"r":"YH","t":1985,"v":4.77,"sd":1.4},{"r":"YH","t":1986,"v":4.92,"sd":1.4},{"r":"YH","t":1987,"v":5.02,"sd":1.4},{"r":"YH","t":1988,"v":5.04,"sd":1.4},{"r":"YH","t":1989,"v":4.94,"sd":1.4},{"r":"YH","t":1990,"v":4.98,"sd":1.4},{"r":"YH","t":1991,"v":4.95,"sd":1.4},{"r":"YH","t":1992,"v":4.88,"sd":1.4},{"r":"YH","t":1993,"v":4.5,"sd":1.4},{"r":"YH","t":1994,"v":3.7,"sd":1.4},{"r":"YH","t":1995,"v":3.36,"sd":1.4},{"r":"YH","t":1996,"v":3.31,"sd":1.4},{"r":"YH","t":1997,"v":3.38,"sd":1.4},{"r":"YH","t":1998,"v":3.9,"sd":1.4},{"r":"YH","t":1999,"v":4.08,"sd":1.4},{"r":"YH","t":2000,"v":4.06,"sd":1.4},{"r":"YH","t":2001,"v":3.45,"sd":1.4},{"r":"YH","t":2002,"v":2.95,"sd":1.3},{"r":"YH","t":2003,"v":2.65,"sd":1.3},{"r":"YH","t":2004,"v":2.45,"sd":1.3},{"r":"YH","t":2005,"v":2.45,"sd":1.3},{"r":"YH","t":2006,"v":2.5,"sd":1.3},{"r":"YH","t":2007,"v":2.42,"sd":1.3},{"r":"YH","t":2008,"v":2.42,"sd":1.3},{"r":"YH","t":2009,"v":2.6,"sd":1.3},{"r":"YH","t":2010,"v":2.8,"sd":1.3},{"r":"YH","t":2011,"v":3.0,"sd":1.3},{"r":"YH","t":2012,"v":3.11,"sd":1.4},{"r":"YH","t":2013,"v":3.05,"sd":1.4},{"r":"YH","t":2014,"v":2.8,"sd":1.4},{"r":"YH","t":2015,"v":2.45,"sd":1.4},{"r":"YH","t":2016,"v":2.0,"sd":1.4},{"r":"YH","t":2017,"v":1.75,"sd":1.5},{"r":"YH","t":2018,"v":1.57,"sd":1.5},{"r":"YH","t":2019,"v":1.37,"sd":1.6},{"r":"YH","t":2020,"v":1.22,"sd":1.8},{"r":"YH","t":2021,"v":1.1,"sd":2.6}
    ]
  },
  "layer": [
    {
      "data": {"values": [{"g": -2.5}, {"g": 2.5}, {"g": 7.5}, {"g": 12.5}, {"g": 17.5}]},
      "mark": {"type": "rule", "color": "#E6E6E6", "strokeWidth": 1.6},
      "encoding": {
        "y": {"field": "g", "type": "quantitative", "title": "Number of Museums",
              "scale": {"domain": [-4.68, 18.88], "nice": false, "zero": false},
              "axis": {"values": [0, 5, 10, 15]}}
      }
    },
    {
      "data": {"name": "d"},
      "transform": [{"lookup": "r", "from": {"data": {"name": "reg"}, "key": "r", "fields": ["variable"]}}],
      "encoding": {
        "x": {
          "field": "t", "type": "quantitative", "title": "Year",
          "scale": {"domain": [1956.9, 2025.1], "nice": false, "zero": false},
          "axis": {"values": [1960, 1965, 1970, 1975, 1980, 1985, 1990, 1995, 2000, 2005, 2010, 2015, 2020], "format": "d"}
        },
        "y": {
          "field": "v", "type": "quantitative", "title": "Number of Museums",
          "scale": {"domain": [-4.68, 18.88], "nice": false, "zero": false},
          "axis": {"values": [0, 5, 10, 15]}
        }
      },
      "layer": [
        {"transform": [{"filter": "datum.r === 'EM'"}], "mark": {"type": "errorband", "band": {"color": "#7F7F7F", "opacity": 0.37}}, "encoding": {"yError": {"field": "sd"}}},
        {"transform": [{"filter": "datum.r === 'EM'"}], "mark": {"type": "line", "strokeWidth": 8, "strokeJoin": "round"},
         "encoding": {"color": {"field": "variable", "type": "nominal",
           "scale": {"range": ["#F8766D", "#DE8C00", "#B79F00", "#7CAE00", "#00BA38", "#00C08B", "#00BFC4", "#00B4F0", "#619CFF", "#C77CFF", "#F564E3", "#FF64B0"]},
           "legend": {"orient": "none", "legendX": 2566, "legendY": 436, "direction": "vertical", "title": "variable", "titleFontSize": 46, "titleColor": "black", "titleFontWeight": "normal", "titlePadding": 17, "symbolType": "stroke", "symbolSize": 3249, "symbolStrokeWidth": 8.5, "symbolOffset": 6, "clipHeight": 72, "rowPadding": 0, "labelFontSize": 37, "labelColor": "black", "labelOffset": 23, "labelLimit": 1000, "padding": 0, "zindex": 2}}}},
        {"transform": [{"filter": "datum.r === 'EE'"}], "mark": {"type": "errorband", "band": {"color": "#7F7F7F", "opacity": 0.37}}, "encoding": {"yError": {"field": "sd"}}},
        {"transform": [{"filter": "datum.r === 'EE'"}], "mark": {"type": "line", "strokeWidth": 8, "strokeJoin": "round"}, "encoding": {"color": {"field": "variable", "type": "nominal"}}},
        {"transform": [{"filter": "datum.r === 'LO'"}], "mark": {"type": "errorband", "band": {"color": "#7F7F7F", "opacity": 0.37}}, "encoding": {"yError": {"field": "sd"}}},
        {"transform": [{"filter": "datum.r === 'LO'"}], "mark": {"type": "line", "strokeWidth": 8, "strokeJoin": "round"}, "encoding": {"color": {"field": "variable", "type": "nominal"}}},
        {"transform": [{"filter": "datum.r === 'NE'"}], "mark": {"type": "errorband", "band": {"color": "#7F7F7F", "opacity": 0.37}}, "encoding": {"yError": {"field": "sd"}}},
        {"transform": [{"filter": "datum.r === 'NE'"}], "mark": {"type": "line", "strokeWidth": 8, "strokeJoin": "round"}, "encoding": {"color": {"field": "variable", "type": "nominal"}}},
        {"transform": [{"filter": "datum.r === 'NW'"}], "mark": {"type": "errorband", "band": {"color": "#7F7F7F", "opacity": 0.37}}, "encoding": {"yError": {"field": "sd"}}},
        {"transform": [{"filter": "datum.r === 'NW'"}], "mark": {"type": "line", "strokeWidth": 8, "strokeJoin": "round"}, "encoding": {"color": {"field": "variable", "type": "nominal"}}},
        {"transform": [{"filter": "datum.r === 'NI'"}], "mark": {"type": "errorband", "band": {"color": "#7F7F7F", "opacity": 0.37}}, "encoding": {"yError": {"field": "sd"}}},
        {"transform": [{"filter": "datum.r === 'NI'"}], "mark": {"type": "line", "strokeWidth": 8, "strokeJoin": "round"}, "encoding": {"color": {"field": "variable", "type": "nominal"}}},
        {"transform": [{"filter": "datum.r === 'SC'"}], "mark": {"type": "errorband", "band": {"color": "#7F7F7F", "opacity": 0.37}}, "encoding": {"yError": {"field": "sd"}}},
        {"transform": [{"filter": "datum.r === 'SC'"}], "mark": {"type": "line", "strokeWidth": 8, "strokeJoin": "round"}, "encoding": {"color": {"field": "variable", "type": "nominal"}}},
        {"transform": [{"filter": "datum.r === 'SE'"}], "mark": {"type": "errorband", "band": {"color": "#7F7F7F", "opacity": 0.37}}, "encoding": {"yError": {"field": "sd"}}},
        {"transform": [{"filter": "datum.r === 'SE'"}], "mark": {"type": "line", "strokeWidth": 8, "strokeJoin": "round"}, "encoding": {"color": {"field": "variable", "type": "nominal"}}},
        {"transform": [{"filter": "datum.r === 'SW'"}], "mark": {"type": "errorband", "band": {"color": "#7F7F7F", "opacity": 0.37}}, "encoding": {"yError": {"field": "sd"}}},
        {"transform": [{"filter": "datum.r === 'SW'"}], "mark": {"type": "line", "strokeWidth": 8, "strokeJoin": "round"}, "encoding": {"color": {"field": "variable", "type": "nominal"}}},
        {"transform": [{"filter": "datum.r === 'WA'"}], "mark": {"type": "errorband", "band": {"color": "#7F7F7F", "opacity": 0.37}}, "encoding": {"yError": {"field": "sd"}}},
        {"transform": [{"filter": "datum.r === 'WA'"}], "mark": {"type": "line", "strokeWidth": 8, "strokeJoin": "round"}, "encoding": {"color": {"field": "variable", "type": "nominal"}}},
        {"transform": [{"filter": "datum.r === 'WM'"}], "mark": {"type": "errorband", "band": {"color": "#7F7F7F", "opacity": 0.37}}, "encoding": {"yError": {"field": "sd"}}},
        {"transform": [{"filter": "datum.r === 'WM'"}], "mark": {"type": "line", "strokeWidth": 8, "strokeJoin": "round"}, "encoding": {"color": {"field": "variable", "type": "nominal"}}},
        {"transform": [{"filter": "datum.r === 'YH'"}], "mark": {"type": "errorband", "band": {"color": "#7F7F7F", "opacity": 0.37}}, "encoding": {"yError": {"field": "sd"}}},
        {"transform": [{"filter": "datum.r === 'YH'"}], "mark": {"type": "line", "strokeWidth": 8, "strokeJoin": "round"}, "encoding": {"color": {"field": "variable", "type": "nominal"}}},
        {
          "transform": [{"filter": "false"}],
          "mark": {"type": "square", "opacity": 1},
          "encoding": {
            "fill": {"field": "variable", "type": "nominal",
              "scale": {"domain": ["East Midlands", "East of England", "London", "North East", "North West", "Northern Ireland", "Scotland", "South East", "South West", "Wales", "West Midlands", "Yorkshire and The Humber"],
                        "range": ["#CFCFCF", "#CFCFCF", "#CFCFCF", "#CFCFCF", "#CFCFCF", "#CFCFCF", "#CFCFCF", "#CFCFCF", "#CFCFCF", "#CFCFCF", "#CFCFCF", "#CFCFCF"]},
              "legend": {"orient": "none", "legendX": 2565, "legendY": 503, "direction": "vertical", "title": null, "symbolType": "square", "symbolSize": 5184, "symbolStrokeWidth": 0, "symbolOpacity": 1, "clipHeight": 72, "rowPadding": 0, "labelExpr": "''", "labelFontSize": 10, "padding": 0, "zindex": 1}}
          }
        }
      ]
    },
    {
      "data": {"values": [{"z": 0}]},
      "mark": {"type": "rule", "color": "#555555", "strokeWidth": 3.5},
      "encoding": {"y": {"field": "z", "type": "quantitative", "title": "Number of Museums", "axis": {"values": [0, 5, 10, 15]}}}
    }
  ],
  "config": {
    "font": "Liberation Sans",
    "view": {"stroke": "#B3B3B3", "strokeWidth": 2.5},
    "axis": {
      "labelFont": "Liberation Sans", "labelFontSize": 36, "labelColor": "#4D4D4D",
      "titleFont": "Liberation Sans", "titleFontSize": 46, "titleColor": "black", "titleFontWeight": "normal",
      "tickColor": "#A6A6A6", "tickSize": 11.5, "tickWidth": 2,
      "domain": false, "grid": true, "labelFlush": false, "labelOverlap": false
    },
    "axisX": {"gridColor": "#A0A0A0", "gridWidth": 2.2, "labelPadding": -3, "titlePadding": 22},
    "axisY": {"gridColor": "#D6D6D6", "gridWidth": 2.5, "labelPadding": 10, "titlePadding": 10},
    "legend": {"labelFont": "Liberation Sans", "titleFont": "Liberation Sans"}
  }
}
